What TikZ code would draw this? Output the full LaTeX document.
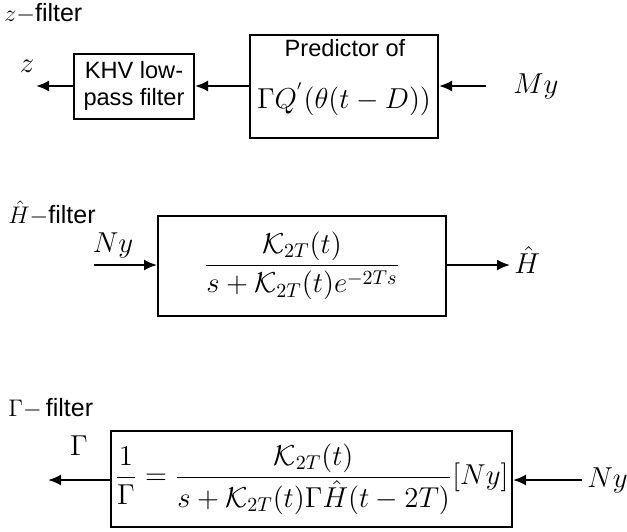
\documentclass[tikz,border=0pt]{standalone}
\usepackage{fontspec}
\setsansfont{Liberation Sans}
\usetikzlibrary{arrows.meta}
\tikzset{
  blk/.style={draw, line width=1pt, inner sep=0pt, align=center},
  sig/.style={line width=1pt, -{Latex[length=6.5pt,width=5.5pt]}},
  lbl/.style={font=\fontsize{14}{16}\selectfont, inner sep=0pt},
  txt/.style={font=\sffamily\fontsize{11.8}{13.5}\selectfont},
  ttl/.style={font=\fontsize{12.5}{14}\selectfont, inner sep=0pt, anchor=west}
}
\begin{document}
\begin{tikzpicture}[x=0.5pt,y=-0.5pt]
\useasboundingbox (0,0) rectangle (627,531);
% ---- z filter
\node[ttl] (zt) at (4,13) {$z-$\textsf{filter}};
\node[blk, txt, minimum width=60pt, minimum height=32.5pt] (khv) at (134,86) {KHV low-\\pass filter};
\node[blk, minimum width=94pt, minimum height=51.5pt] (pred) at (344,86) {};
\node[txt, inner sep=0pt] (predt) at (345,48) {Predictor of};
\node[lbl] (predm) at (344,99) {$\Gamma Q^{'}(\theta(t-D))$};
\node[lbl] (my) at (536,86) {$My$};
\node[lbl] (z) at (27,66) {$z$};
\coordinate (myin) at (486,86);
\coordinate (zout) at (36,86);
\draw[sig] (myin) -- (pred.east |- myin);
\draw[sig] (pred.west |- myin) -- (khv.east |- myin);
\draw[sig] (khv.west |- zout) -- (zout);
% ---- H filter
\node[ttl] (ht) at (8,213) {$\hat{H}-$\textsf{filter}};
\node[blk, lbl, minimum width=144pt, minimum height=50pt] (hbox) at (302,266)
  {$\displaystyle\frac{\mathcal{K}_{2T}(t)}{s+\mathcal{K}_{2T}(t)e^{-2Ts}}$};
\node[lbl] (ny1) at (113,245) {$Ny$};
\coordinate (hin) at (94,265);
\coordinate (hout) at (510,265);
\draw[sig] (hin) -- (hbox.west |- hin);
\draw[sig] (hbox.east |- hout) -- (hout);
\node[lbl, anchor=west] (hh) at (514,260) {$\hat{H}$};
% ---- Gamma filter
\node[ttl] (gt) at (8,408) {$\Gamma-$\,\textsf{filter}};
\node[blk, lbl, minimum width=200.5pt, minimum height=48pt] (gbox) at (311.5,479)
  {$\displaystyle\frac{1}{\Gamma}=\frac{\mathcal{K}_{2T}(t)}{s+\mathcal{K}_{2T}(t)\Gamma\hat{H}(t-2T)}[Ny]$};
\node[lbl] (gl) at (79,446) {$\Gamma$};
\coordinate (gout) at (48,480);
\coordinate (gin) at (582,480);
\draw[sig] (gbox.west |- gout) -- (gout);
\draw[sig] (gin) -- (gbox.east |- gin);
\node[lbl, anchor=west] (ny2) at (587,480) {$Ny$};
\end{tikzpicture}
\end{document}
